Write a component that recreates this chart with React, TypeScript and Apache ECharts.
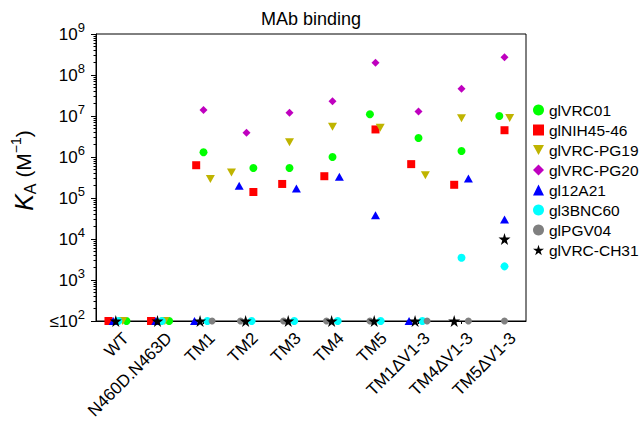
import React, { useEffect, useRef } from 'react';
import * as echarts from 'echarts';

const CATEGORIES = ['WT', 'N460D.N463D', 'TM1', 'TM2', 'TM3', 'TM4', 'TM5', 'TM1ΔV1-3', 'TM4ΔV1-3', 'TM5ΔV1-3'];

// K_A values (M^-1); 100 = at or below detection (≤10^2); null = not plotted
const VRC01 = [100, 100, 1.3e6, 5.4e5, 5.4e5, 1.0e6, 1.1e7, 2.9e6, 1.4e6, 1.0e7];
const NIH45_46 = [100, 100, 6.3e5, 1.4e5, 2.2e5, 3.4e5, 4.7e6, 6.7e5, 2.1e5, 4.5e6];
const VRC_PG19 = [100, 100, 2.9e5, 4.2e5, 2.3e6, 5.5e6, 5.2e6, 3.6e5, 8.8e6, 8.9e6];
const VRC_PG20 = [null, null, 1.4e7, 3.9e6, 1.2e7, 2.3e7, 2.0e8, 1.28e7, 4.6e7, 2.7e8];
const A12A21 = [100, 100, 100, 2.0e5, 1.7e5, 3.3e5, 3.8e4, 100, 3.0e5, 3.0e4];
const BNC60 = [100, 100, 100, 100, 100, 100, 100, 100, 3.5e3, 2.15e3];
const PGV04 = [null, null, 100, 100, 100, 100, 100, 100, 100, 100];
const VRC_CH31 = [100, 100, 100, 100, 100, 100, 100, 100, 100, 1.0e4];

// horizontal jitter within each category (fraction of a category width)
const VRC01_JIT = [0.21, 0.2, 0, 0.16, 0, 0, -0.13, 0, 0, -0.12];
const NIH45_46_JIT = [-0.21, -0.22, -0.17, 0.16, -0.17, -0.19, 0, -0.17, -0.17, 0];
const VRC_PG19_JIT = [0.12, 0.1, 0.16, -0.35, 0, 0, 0.11, 0.16, 0, 0.12];
const VRC_PG20_JIT = [0, 0, 0, 0, 0, 0, 0, 0, 0, 0];
const A12A21_JIT = [-0.1, -0.11, -0.21, -0.17, 0.16, 0.16, 0, -0.22, 0.16, 0];
const BNC60_JIT = [0.02, 0.03, 0.09, 0.12, 0.11, 0.12, 0.12, 0.09, 0, 0];
const PGV04_JIT = [0, 0, 0.2, -0.14, -0.14, -0.14, -0.13, 0.2, 0.16, 0];
const VRC_CH31_JIT = [-0.04, -0.07, -0.08, -0.02, -0.03, -0.02, -0.03, -0.08, -0.17, 0];

const MAJOR_TICKS = [1e2, 1e3, 1e4, 1e5, 1e6, 1e7, 1e8, 1e9];
const MINOR_TICKS: number[] = [];
MAJOR_TICKS.slice(0, -1).forEach((d) => {
  for (let m = 2; m <= 9; m++) MINOR_TICKS.push(m * d);
});

const FONT = '"Liberation Sans", Arial, Helvetica, sans-serif';
const STAR = 'path://M50,0 L61,35 L98,35 L68,57 L79,91 L50,70 L21,91 L32,57 L2,35 L39,35 Z';
const DOWN_TRI = 'path://M0,0 L10,0 L5,9 Z';

const SERIES = [
  { name: 'glVRC01', values: VRC01, jit: VRC01_JIT, symbol: 'circle', size: 8, color: '#00ff00' },
  { name: 'glNIH45-46', values: NIH45_46, jit: NIH45_46_JIT, symbol: 'rect', size: 8, color: '#ff0000' },
  { name: 'glVRC-PG19', values: VRC_PG19, jit: VRC_PG19_JIT, symbol: DOWN_TRI, size: [9, 8], color: '#bfb400' },
  { name: 'glVRC-PG20', values: VRC_PG20, jit: VRC_PG20_JIT, symbol: 'diamond', size: 8, color: '#bf00bf' },
  { name: 'gl12A21', values: A12A21, jit: A12A21_JIT, symbol: 'triangle', size: [9, 8], color: '#0000ff' },
  { name: 'gl3BNC60', values: BNC60, jit: BNC60_JIT, symbol: 'circle', size: 8, color: '#00ffff' },
  { name: 'glPGV04', values: PGV04, jit: PGV04_JIT, symbol: 'circle', size: 7, color: '#808080' },
  { name: 'glVRC-CH31', values: VRC_CH31, jit: VRC_CH31_JIT, symbol: STAR, size: 12, color: '#000000' },
];

export default function App() {
  const ref = useRef<HTMLDivElement>(null);
  useEffect(() => {
    if (!ref.current) return;
    const chart = echarts.init(ref.current, undefined, { renderer: 'svg' });
    const series = SERIES.map((s) => ({
      type: 'scatter',
      name: s.name,
      xAxisIndex: 1,
      yAxisIndex: 0,
      symbol: s.symbol,
      symbolSize: s.size,
      clip: false,
      itemStyle: { color: s.color, opacity: 1 },
      emphasis: { disabled: true },
      data: s.values
        .map((v, i) => (v == null ? null : [i + s.jit[i], v]))
        .filter((d) => d !== null),
    }));
    chart.setOption({
      animation: false,
      textStyle: { fontFamily: FONT },
      graphic: [
        {
          type: 'text',
          x: 311,
          y: 19,
          style: {
            text: 'MAb binding',
            fontSize: 18,
            fontFamily: FONT,
            fill: '#000',
            align: 'center',
            verticalAlign: 'middle',
          },
        },
      ],
      grid: {
        left: 96,
        right: 117,
        top: 34,
        bottom: 104,
        show: true,
        borderColor: '#000',
        borderWidth: 1,
        backgroundColor: 'transparent',
      },
      legend: {
        orient: 'vertical',
        left: 533,
        top: 102,
        padding: 0,
        itemWidth: 11,
        itemHeight: 11,
        itemGap: 4,
        selectedMode: false,
        textStyle: { fontSize: 15.5, color: '#000', fontFamily: FONT, lineHeight: 16 },
        data: SERIES.map((s) => ({ name: s.name, icon: s.symbol })),
      },
      xAxis: [
        {
          type: 'category',
          data: CATEGORIES,
          boundaryGap: true,
          axisLine: { show: true, onZero: false, lineStyle: { color: '#000', width: 1 } },
          axisTick: { show: true, alignWithLabel: true, length: 3, lineStyle: { color: '#000' } },
          axisLabel: {
            rotate: 45,
            interval: 0,
            color: '#000',
            margin: 6,
            formatter: (v: string) => '{c|' + v + '}',
            rich: {
              c: { fontSize: 17, fontFamily: FONT, color: '#000', padding: [24, 0, 0, 0] },
            },
          },
          splitLine: { show: false },
        },
        {
          type: 'value',
          min: -0.5,
          max: 9.5,
          show: false,
          axisLine: { onZero: false },
        },
      ],
      yAxis: [
        {
          type: 'log',
          logBase: 10,
          min: 100,
          max: 1e9,
          position: 'left',
          axisLine: { show: true, onZero: false, lineStyle: { color: '#000', width: 1 } },
          axisTick: { show: true, length: 5, customValues: MAJOR_TICKS, lineStyle: { color: '#000' } },
          axisLabel: {
            customValues: MAJOR_TICKS,
            margin: 11,
            color: '#000',
            formatter: (v: number) => {
              const e = Math.round(Math.log10(v));
              return (e === 2 ? '{b|≤10}' : '{b|10}') + '{s|' + e + '}';
            },
            rich: {
              b: { fontSize: 17, lineHeight: 26, fontFamily: FONT, color: '#000' },
              s: { fontSize: 13, lineHeight: 13, verticalAlign: 'top', fontFamily: FONT, color: '#000' },
            },
          },
          splitLine: { show: false },
          name: '{k|K}{sub|A}{n| (M}{sup|−1}{n|)}',
          nameLocation: 'middle',
          nameRotate: 90,
          nameGap: 52,
          nameTextStyle: {
            color: '#000',
            padding: [0, 0, 0, 14],
            rich: {
              k: { fontSize: 25, fontStyle: 'italic', lineHeight: 30, fontFamily: FONT, color: '#000' },
              sub: { fontSize: 16, lineHeight: 16, verticalAlign: 'bottom', fontFamily: FONT, color: '#000' },
              n: { fontSize: 21, lineHeight: 30, fontFamily: FONT, color: '#000' },
              sup: { fontSize: 14, lineHeight: 14, verticalAlign: 'top', fontFamily: FONT, color: '#000' },
            },
          },
        },
        {
          type: 'log',
          logBase: 10,
          min: 100,
          max: 1e9,
          position: 'left',
          offset: 0,
          axisLine: { show: false, onZero: false },
          axisLabel: { show: false },
          axisTick: { show: true, length: 2.5, customValues: MINOR_TICKS, lineStyle: { color: '#000' } },
          splitLine: { show: false },
        },
      ],
      series,
    });
    return () => chart.dispose();
  }, []);
  return (
    <div
      ref={ref}
      style={{ position: 'absolute', left: 0, top: 0, width: 643, height: 425, background: '#fff' }}
    />
  );
}
